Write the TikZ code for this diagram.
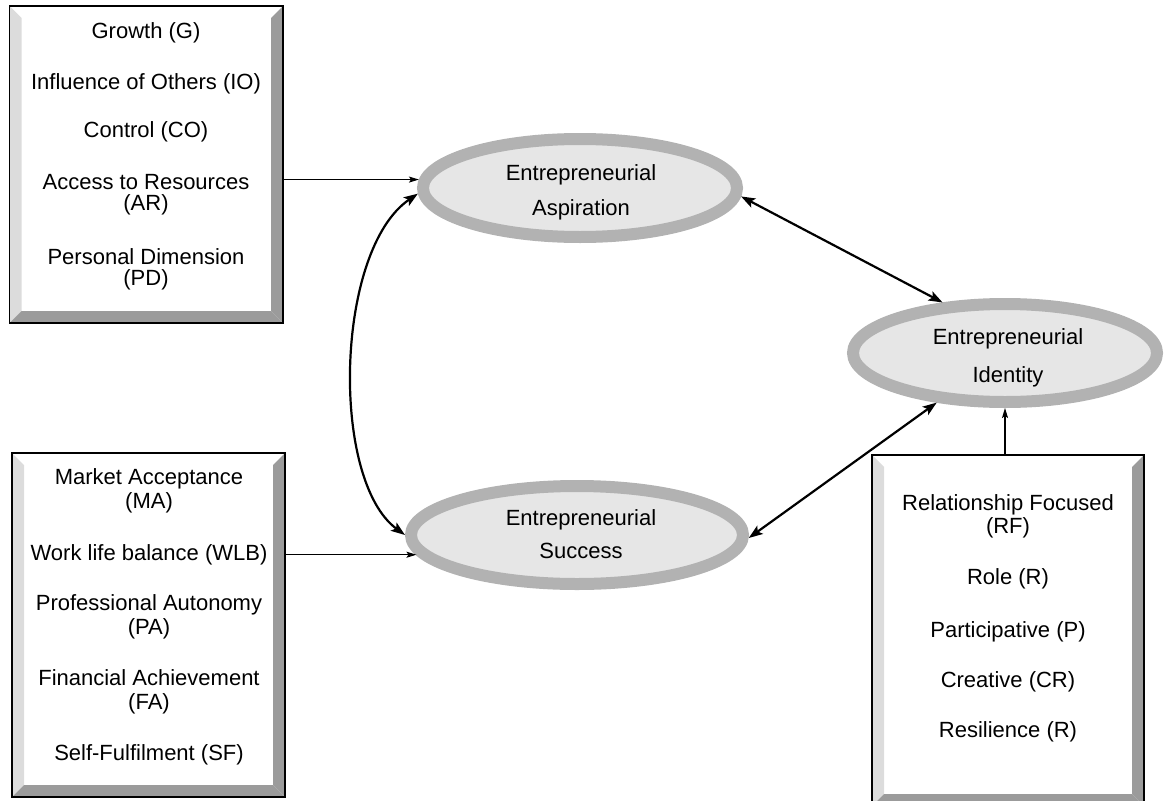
\documentclass[tikz,border=0pt]{standalone}
\usepackage{fontspec}
\setmainfont{Liberation Sans}
\usetikzlibrary{shapes.geometric,arrows.meta,calc}

\definecolor{bevlight}{RGB}{220,220,220}
\definecolor{bevdark}{RGB}{155,155,155}
\definecolor{ringgray}{RGB}{178,178,178}
\definecolor{coregray}{RGB}{230,230,230}

\newcommand\bw{12}
% bevelled frame around a rectangular node: light left edge, dark right and bottom edges
\newcommand\bevelframe[1]{%
  \fill[bevlight] (#1.north west) -- ($(#1.north west)+(\bw,\bw)$) -- ($(#1.south west)+(\bw,-\bw)$) -- (#1.south west) -- cycle;
  \fill[bevdark] (#1.north east) -- ($(#1.north east)+(-\bw,\bw)$) -- ($(#1.south east)+(-\bw,-\bw)$) -- (#1.south east) -- cycle;
  \fill[bevdark] (#1.south west) -- ($(#1.south west)+(\bw,-\bw)$) -- ($(#1.south east)+(-\bw,-\bw)$) -- (#1.south east) -- cycle;
  \draw[line width=1.6] (#1.north west) rectangle (#1.south east);
}

\tikzset{
  boxnode/.style={rectangle, inner sep=0, outer sep=0},
  construct/.style={ellipse, draw=ringgray, line width=12, fill=coregray,
    inner sep=0, outer sep=6, minimum height=98},
  lbl/.style={anchor=base, inner sep=0, font=\fontsize{22}{22}\selectfont},
  thinarr/.style={line width=1.3, -{Stealth[length=10,width=6,inset=2]}},
  dblarr/.style={line width=2.2, {Stealth[length=14,width=10,inset=3]}-{Stealth[length=14,width=10,inset=3]}},
}

\begin{document}
\begin{tikzpicture}[x=1pt,y=-1pt]
\useasboundingbox (0,0) rectangle (1166,800);

% framed boxes
\node[boxnode, minimum width=273.5, minimum height=317] (b1) at (146.25,164.5) {};
\node[boxnode, minimum width=273, minimum height=344] (b2) at (148.5,625) {};
\node[boxnode, minimum width=272, minimum height=351] (b3) at (1008,630.5) {};
\bevelframe{b1}
\bevelframe{b2}
\bevelframe{b3}

% box texts
\node[lbl] (g)   at (146,39)  {Growth (G)};
\node[lbl] (io)  at (146,89)  {Influence of Others (IO)};
\node[lbl] (co)  at (146,137) {Control (CO)};
\node[lbl] (ar1) at (146,189) {Access to Resources};
\node[lbl] (ar2) at (146,210) {(AR)};
\node[lbl] (pd1) at (146,264) {Personal Dimension};
\node[lbl] (pd2) at (146,285) {(PD)};

\node[lbl] (ma1) at (149,484) {Market Acceptance};
\node[lbl] (ma2) at (149,508) {(MA)};
\node[lbl] (wlb) at (149,560) {Work life balance (WLB)};
\node[lbl] (pa1) at (149,610) {Professional Autonomy};
\node[lbl] (pa2) at (149,634) {(PA)};
\node[lbl] (fa1) at (149,685) {Financial Achievement};
\node[lbl] (fa2) at (149,709) {(FA)};
\node[lbl] (sf)  at (149,760) {Self-Fulfilment (SF)};

\node[lbl] (rf1) at (1008,510) {Relationship Focused};
\node[lbl] (rf2) at (1008,533) {(RF)};
\node[lbl] (ro)  at (1008,584) {Role (R)};
\node[lbl] (pp)  at (1008,637) {Participative (P)};
\node[lbl] (cr)  at (1008,687) {Creative (CR)};
\node[lbl] (rs)  at (1008,737) {Resilience (R)};

% constructs
\node[construct, minimum width=314] (asp) at (580,188) {};
\node[construct, minimum width=304] (idn) at (1005,353) {};
\node[construct, minimum width=332] (suc) at (577,535) {};

\node[lbl] (asp1) at (581,180) {Entrepreneurial};
\node[lbl] (asp2) at (581,215) {Aspiration};
\node[lbl] (idn1) at (1008,344) {Entrepreneurial};
\node[lbl] (idn2) at (1008,382) {Identity};
\node[lbl] (suc1) at (581,525) {Entrepreneurial};
\node[lbl] (suc2) at (581,558) {Success};

% connectors
\draw[thinarr] (asp.177 -| b1.east) -- (asp.177);
\draw[thinarr] (suc.187 -| b2.east) -- (suc.187);
\draw[thinarr] (idn.south |- b3.north) -- (idn.south);
\draw[dblarr] (asp.182) .. controls (335,250) and (330,480) .. (suc.180);
\draw[dblarr] (asp.357) -- (idn.141);
\draw[dblarr] (suc.359) -- (idn.216);
\end{tikzpicture}
\end{document}
